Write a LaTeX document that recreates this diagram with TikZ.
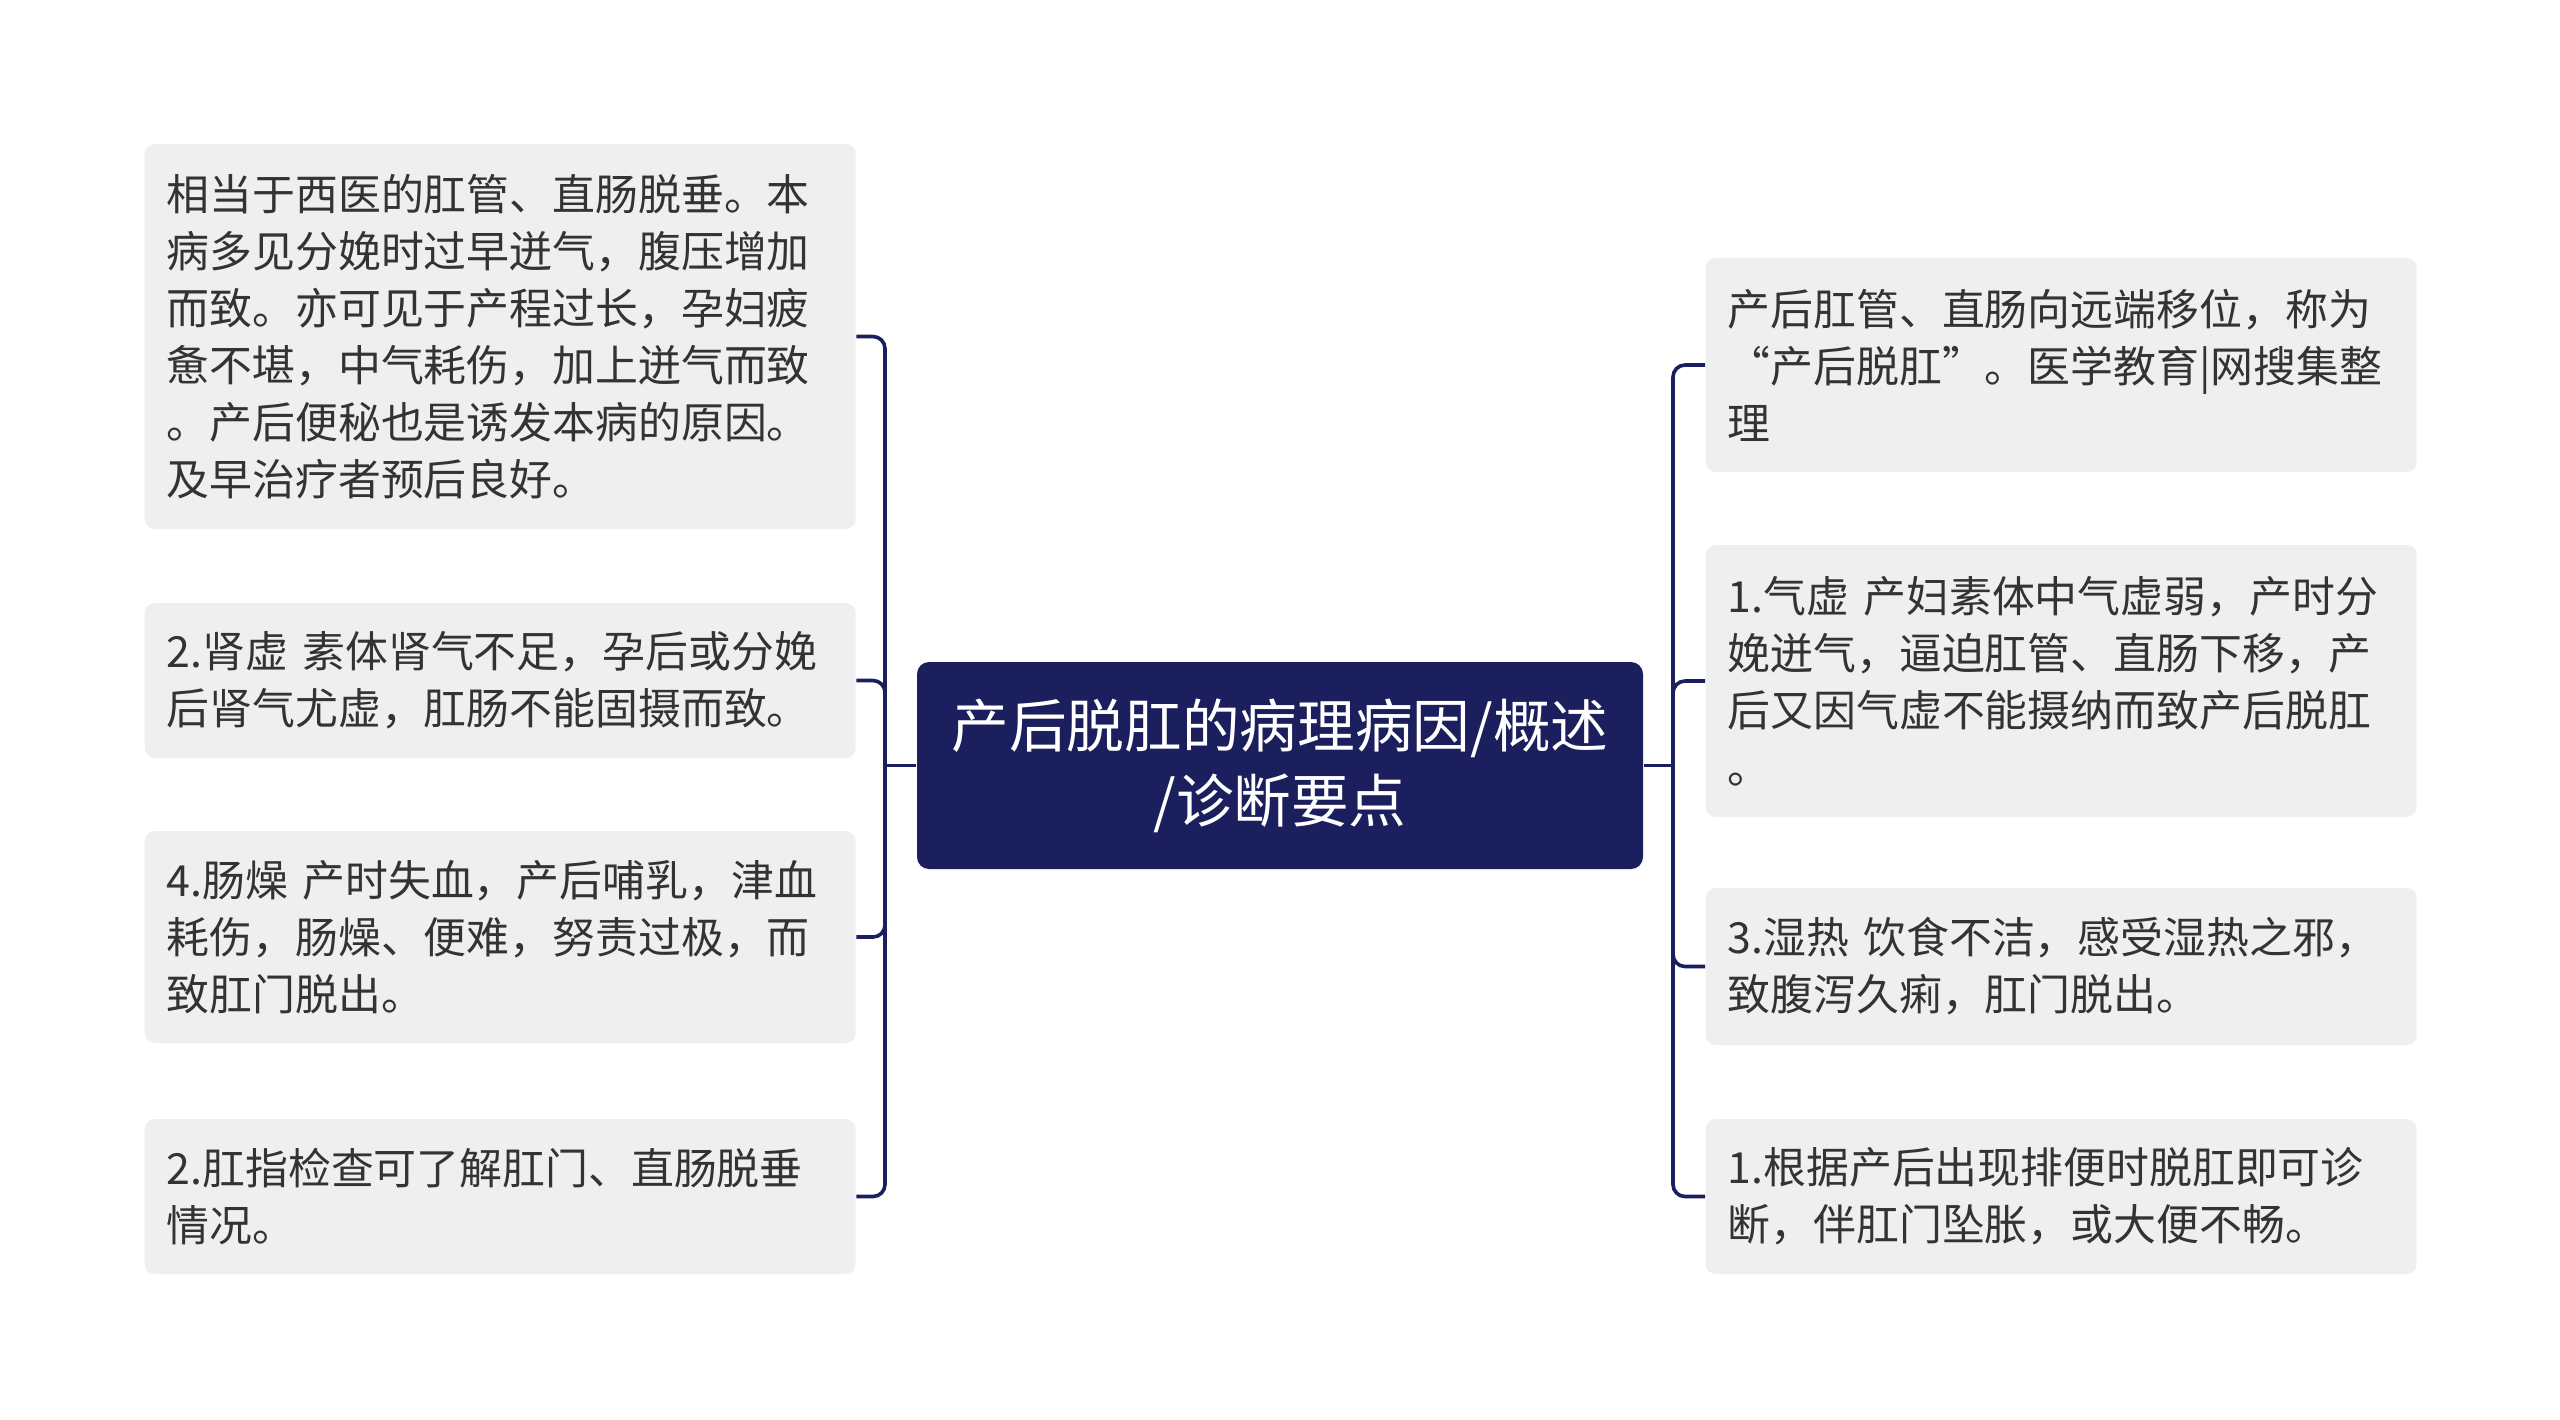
\documentclass[tikz,border=0pt]{standalone}
\usepackage{fontspec}
\setmainfont{Noto Sans CJK SC}
\usetikzlibrary{positioning}
\definecolor{mapNavy}{RGB}{27,31,94}
\definecolor{leafGray}{RGB}{239,239,239}
\definecolor{leafText}{RGB}{51,51,51}

\begin{document}
\begin{tikzpicture}[
    leaf/.style={fill=leafGray, rounded corners=0.1cm, anchor=west,
      minimum width=7.11cm, text width=6.67cm, inner xsep=0.22cm, inner ysep=0pt,
      align=left, text=leafText, font=\fontsize{12.2}{16.2}\selectfont},
    root/.style={fill=mapNavy, rounded corners=0.12cm,
      minimum width=7.26cm, minimum height=2.07cm, text width=7cm,
      align=center, text=white, font=\fontsize{16.4}{21.3}\selectfont},
    link/.style={draw=mapNavy, line width=0.036cm, rounded corners=0.12cm}
  ]

  \useasboundingbox (0,0) rectangle (25.6,-14.19);

  % the root
  \node[root] (root) at (12.80,-7.655) {产后脱肛的病理病因/概述\\/诊断要点};

  % left leaves
  \node[leaf, minimum height=3.85cm] (l1) at (1.44,-3.365) {%
    相当于西医的肛管、直肠脱垂。本\\
    病多见分娩时过早迸气，腹压增加\\
    而致。亦可见于产程过长，孕妇疲\\
    惫不堪，中气耗伤，加上迸气而致\\
    。产后便秘也是诱发本病的原因。\\
    及早治疗者预后良好。};
  \node[leaf, minimum height=1.55cm] (l2) at (1.44,-6.805) {%
    2.肾虚 素体肾气不足，孕后或分娩\\
    后肾气尤虚，肛肠不能固摄而致。};
  \node[leaf, minimum height=2.12cm] (l3) at (1.44,-9.37) {%
    4.肠燥 产时失血，产后哺乳，津血\\
    耗伤，肠燥、便难，努责过极，而\\
    致肛门脱出。};
  \node[leaf, minimum height=1.55cm] (l4) at (1.44,-11.965) {%
    2.肛指检查可了解肛门、直肠脱垂\\
    情况。};

  % right leaves
  \node[leaf, minimum height=2.14cm] (r1) at (17.05,-3.65) {%
    产后肛管、直肠向远端移位，称为\\
    “产后脱肛”。医学教育|网搜集整\\
    理};
  \node[leaf, minimum height=2.72cm] (r2) at (17.05,-6.81) {%
    1.气虚 产妇素体中气虚弱，产时分\\
    娩迸气，逼迫肛管、直肠下移，产\\
    后又因气虚不能摄纳而致产后脱肛\\
    。};
  \node[leaf, minimum height=1.57cm] (r3) at (17.05,-9.665) {%
    3.湿热 饮食不洁，感受湿热之邪，\\
    致腹泻久痢，肛门脱出。};
  \node[leaf, minimum height=1.55cm] (r4) at (17.05,-11.965) {%
    1.根据产后出现排便时脱肛即可诊\\
    断，伴肛门坠胀，或大便不畅。};

  % draw the branches
  \coordinate (lj) at (8.85,-7.655);
  \coordinate (rj) at (16.73,-7.655);
  \draw[link] (root.west) -- (lj);
  \draw[link] (root.east) -- (rj);
  \foreach \n in {l1,l2,l3,l4}
    \draw[link] (lj) |- (\n.east);
  \foreach \n in {r1,r2,r3,r4}
    \draw[link] (rj) |- (\n.west);

\end{tikzpicture}
\end{document}
